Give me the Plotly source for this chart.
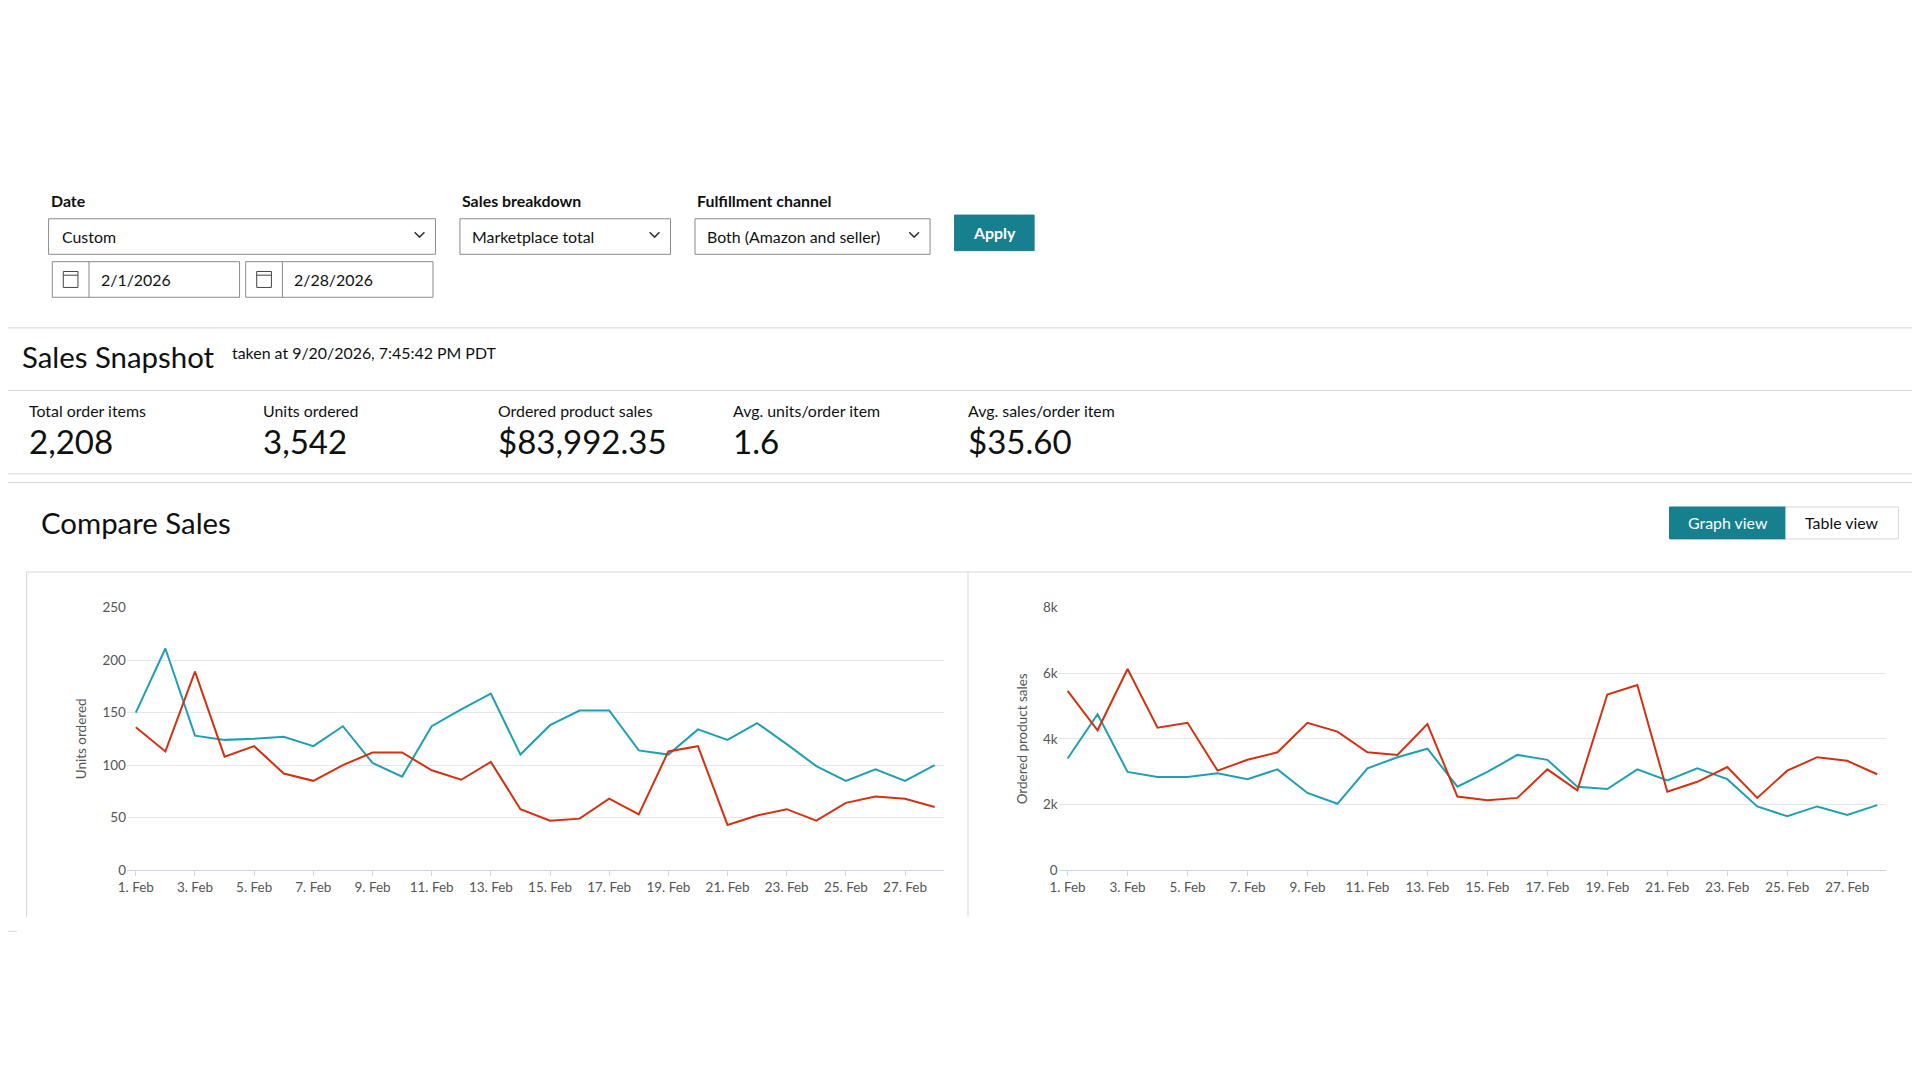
import plotly.graph_objects as go

S = 1920 / 1568  # reference pixels -> page pixels
W, H = 1920, 1080

TEAL = "#1F9FB3"
RED = "#D13212"
BTN = "#16808F"
BORDER = "#D5D9D9"
FONT = "Lato"

days = [f"{d}. Feb" for d in range(1, 29)]
tick_days = [f"{d}. Feb" for d in range(1, 29, 2)]

units_teal = [150, 211, 128, 124, 125, 127, 118, 137, 102, 89, 137, 153, 168, 110,
              138, 152, 152, 114, 110, 134, 124, 140, 120, 99, 85, 96, 85, 100]
units_red = [136, 113, 189, 108, 118, 92, 85, 100, 112, 112, 95, 86, 103, 58,
             47, 49, 68, 53, 113, 118, 43, 52, 58, 47, 64, 70, 68, 60]
sales_red = [5460, 4260, 6130, 4340, 4490, 3030, 3360, 3590, 4490, 4220, 3590, 3510,
             4450, 2240, 2130, 2200, 3070, 2430, 5350, 5640, 2390, 2690, 3140, 2200,
             3030, 3440, 3330, 2920]
sales_teal = [3400, 4750, 2990, 2840, 2840, 2950, 2770, 3070, 2350, 2020, 3100, 3440,
              3700, 2540, 2990, 3510, 3360, 2540, 2470, 3070, 2730, 3100, 2770, 1940,
              1640, 1940, 1680, 1980]

kpi_labels = ["Total order items", "Units ordered", "Ordered product sales",
              "Avg. units/order item", "Avg. sales/order item"]
kpi_values = ["2,208", "3,542", "$83,992.35", "1.6", "$35.60"]


# correct for the page offset seen in the first render
def fx(x):
    return ((x - 13.2) / 0.9955) * S / W


def fy(y):
    return 1 - ((y - 13.7) / 0.9835) * S / H


fig = go.Figure()
fig.add_trace(go.Scatter(x=days, y=units_teal, mode="lines", line=dict(color=TEAL, width=2), xaxis="x", yaxis="y"))
fig.add_trace(go.Scatter(x=days, y=units_red, mode="lines", line=dict(color=RED, width=2), xaxis="x", yaxis="y"))
fig.add_trace(go.Scatter(x=days, y=sales_teal, mode="lines", line=dict(color=TEAL, width=2), xaxis="x2", yaxis="y2"))
fig.add_trace(go.Scatter(x=days, y=sales_red, mode="lines", line=dict(color=RED, width=2), xaxis="x2", yaxis="y2"))

shapes = []
ann = []


def rect(x0, y0, x1, y1, line=BORDER, fill="white", lw=1):
    shapes.append(dict(type="rect", xref="paper", yref="paper", x0=fx(x0), x1=fx(x1),
                       y0=fy(y1), y1=fy(y0), line=dict(color=line, width=lw), fillcolor=fill, layer="below"))


def hline(x0, x1, y, color=BORDER):
    shapes.append(dict(type="line", xref="paper", yref="paper", x0=fx(x0), x1=fx(x1),
                       y0=fy(y), y1=fy(y), line=dict(color=color, width=1)))


def vline(x, y0, y1, color=BORDER):
    shapes.append(dict(type="line", xref="paper", yref="paper", x0=fx(x), x1=fx(x),
                       y0=fy(y0), y1=fy(y1), line=dict(color=color, width=1)))


def text(x, y, s, size, color="#0F1111", bold=False, anchor="left"):
    ann.append(dict(xref="paper", yref="paper", x=fx(x), y=fy(y), text=f"<b>{s}</b>" if bold else s,
                    showarrow=False, xanchor=anchor, yanchor="middle",
                    font=dict(family=FONT, size=size * S, color=color)))


def chevron(x, y):
    a, b = fx(x - 4), fx(x + 4)
    m = fx(x)
    shapes.append(dict(type="path", xref="paper", yref="paper",
                       path=f"M {a},{fy(y - 2)} L {m},{fy(y + 2)} L {b},{fy(y - 2)}",
                       line=dict(color="#333", width=1.5)))


# filter controls
text(39, 164, "Date", 13, bold=True)
rect(39, 179, 355, 208, line="#888C8C")
text(48, 193.5, "Custom", 13)
chevron(342, 192)
for x0, x1, d in [(42, 195, "2/1/2026"), (200, 353, "2/28/2026")]:
    rect(x0, 214, x1, 243, line="#888C8C")
    vline(x0 + 30, 214, 243, color="#888C8C")
    rect(x0 + 9, 222, x0 + 21, 235, line="#444", fill="white")
    hline(x0 + 9, x0 + 21, 225, color="#444")
    text(x0 + 38, 228.5, d, 13)
text(375, 164, "Sales breakdown", 13, bold=True)
rect(375, 179, 547, 208, line="#888C8C")
text(383, 193.5, "Marketplace total", 13)
chevron(534, 192)
text(567, 164, "Fulfillment channel", 13, bold=True)
rect(567, 179, 759, 208, line="#888C8C")
text(575, 193.5, "Both (Amazon and seller)", 13)
chevron(746, 192)
rect(779, 176, 844, 205, line=BTN, fill=BTN)
text(811.5, 190.5, "Apply", 13, color="white", bold=True, anchor="center")

# snapshot panel
rect(2, 268, 1580, 387)
hline(2, 1580, 319)
text(16, 291, "Sales Snapshot", 24)
text(187, 288, "taken at 9/20/2026, 7:45:42 PM PDT", 13)
for i, (lab, val) in enumerate(zip(kpi_labels, kpi_values)):
    x = 21 + i * 191.8
    text(x, 335, lab, 13)
    text(x, 360, val, 27)

# compare panel
rect(2, 394, 1580, 760)
text(31, 427, "Compare Sales", 24)
rect(1363, 414, 1458, 440, line=BTN, fill=BTN)
text(1410.5, 427, "Graph view", 13, color="white", anchor="center")
rect(1458, 414, 1550, 440, line=BORDER)
text(1504, 427, "Table view", 13, anchor="center")
rect(21, 467, 1580, 760)
vline(790, 467, 760)
shapes.append(dict(type="rect", xref="paper", yref="paper", x0=0, x1=1, y0=0, y1=fy(748),
                   line=dict(width=0), fillcolor="white", layer="above"))

axis_font = dict(family=FONT, size=11 * S, color="#555")
xcommon = dict(type="category", tickvals=tick_days, ticktext=tick_days, tickfont=axis_font,
               showgrid=False, showline=True, linecolor="#CCD6EB", ticks="outside",
               tickcolor="#CCD6EB", ticklen=5, range=[-0.3, 27.3])
fig.update_layout(
    width=W, height=H, margin=dict(l=0, r=0, t=0, b=0),
    paper_bgcolor="white", plot_bgcolor="white", showlegend=False,
    shapes=shapes, annotations=ann,
    xaxis=dict(domain=[fx(103), fx(770)], anchor="y", **xcommon),
    yaxis=dict(domain=[fy(710), fy(496)], range=[0, 250], tickvals=[0, 50, 100, 150, 200, 250],
               gridcolor="#E6E6E6", tickfont=axis_font, zeroline=False,
               title=dict(text="Units ordered", font=dict(family=FONT, size=11 * S, color="#555"), standoff=12)),
    xaxis2=dict(domain=[fx(864), fx(1540)], anchor="y2", **xcommon),
    yaxis2=dict(domain=[fy(710), fy(496)], range=[0, 8000], tickvals=[0, 2000, 4000, 6000, 8000],
                ticktext=["0", "2k", "4k", "6k", "8k"], gridcolor="#E6E6E6", tickfont=axis_font,
                zeroline=False, anchor="x2",
                title=dict(text="Ordered product sales", font=dict(family=FONT, size=11 * S, color="#555"), standoff=12)),
)

fig.write_html("out.html")
